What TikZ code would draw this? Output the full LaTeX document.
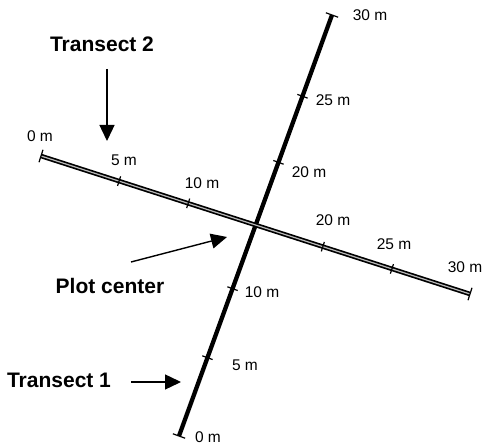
\documentclass[tikz,border=0pt]{standalone}
\usepackage{fontspec}
\setmainfont{Liberation Sans}
\usetikzlibrary{arrows.meta,calc}

\begin{document}
\begin{tikzpicture}[x=1pt, y=-1pt,
    >={Triangle[length=16pt,width=15pt]},
    tranA/.style={line width=4.3pt},
    tranB/.style={line width=1.7pt, double=gray!55, double distance=1.2pt},
    tickmark/.style={line width=1.2pt},
    lbl/.style={font=\fontsize{15.5}{18}\selectfont, inner sep=0pt},
    ttl/.style={font=\fontsize{21}{24}\selectfont\bfseries, inner sep=0pt},
    pointer/.style={->, line width=1.4pt}]
  \useasboundingbox (0,0) rectangle (485,446);
  % transect end points
  \coordinate (t1a) at (179,436);
  \coordinate (t1b) at (332,15);
  \coordinate (t2a) at (41,156);
  \coordinate (t2b) at (470,294);
  % transects
  \draw[tranA] (t1a) -- (t1b);
  \draw[tranB] (t2a) -- (t2b);
  % ticks and end bars
  \foreach \f in {0.186,0.35,0.65,0.807} {
    \draw[tickmark] ($(t1a)!\f!(t1b)!5.5pt!90:(t1b)$) -- ($(t1a)!\f!(t1b)!5.5pt!-90:(t1b)$);
  }
  \foreach \f in {0.182,0.343,0.657,0.818} {
    \draw[tickmark] ($(t2a)!\f!(t2b)!5pt!90:(t2b)$) -- ($(t2a)!\f!(t2b)!5pt!-90:(t2b)$);
  }
  \foreach \p/\q in {t1a/t1b,t1b/t1a,t2a/t2b,t2b/t2a} {
    \draw[tickmark] ($(\p)!6.5pt!90:(\q)$) -- ($(\p)!6.5pt!-90:(\q)$);
  }
  % distance labels, transect 1
  \node[lbl] (a30) at (370,15) {30 m};
  \node[lbl] (a25) at (333,100) {25 m};
  \node[lbl] (a20) at (309,172) {20 m};
  \node[lbl] (a10) at (262,292) {10 m};
  \node[lbl] (a05) at (245,365) {5 m};
  \node[lbl] (a00) at (208,437) {0 m};
  % distance labels, transect 2
  \node[lbl] (b00) at (40,136) {0 m};
  \node[lbl] (b05) at (124,160) {5 m};
  \node[lbl] (b10) at (202,183) {10 m};
  \node[lbl] (b20) at (333,220) {20 m};
  \node[lbl] (b25) at (394,244) {25 m};
  \node[lbl] (b30) at (465,267) {30 m};
  % titles
  \node[ttl] (tr2) at (102,44) {Transect 2};
  \node[ttl] (tr1) at (59,380) {Transect 1};
  \node[ttl] (pc) at (110,286) {Plot center};
  % pointers
  \coordinate (p2s) at (107,69);
  \coordinate (p2e) at (107,141);
  \coordinate (p1s) at (131,382);
  \coordinate (p1e) at (181,382);
  \coordinate (pcs) at (131,262);
  \coordinate (pce) at (227,237);
  \draw[pointer] (p2s) -- (p2e);
  \draw[pointer] (p1s) -- (p1e);
  \draw[pointer] (pcs) -- (pce);
\end{tikzpicture}
\end{document}
